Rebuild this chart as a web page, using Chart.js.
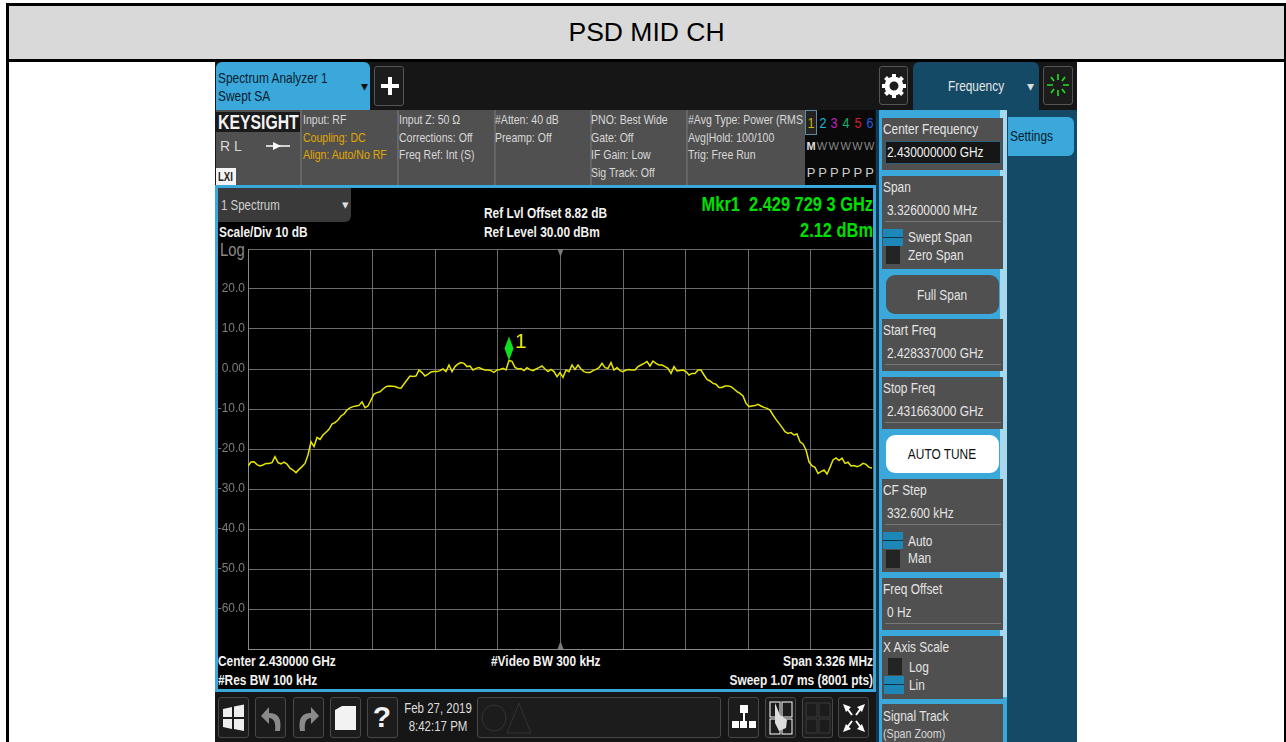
<!DOCTYPE html>
<html>
<head>
<meta charset="utf-8">
<title>PSD MID CH</title>
<script src="https://cdn.jsdelivr.net/npm/chart.js"></script>
<style>
  html, body { margin: 0; padding: 0; background: #fff; overflow: hidden; width: 1286px; height: 742px; }
  body { font-family: 'Liberation Sans', Arial, sans-serif; position: relative; }
  .b { position: absolute; box-sizing: border-box; }
  .t { position: absolute; white-space: pre; line-height: 1; }
  canvas#spectrum { position: absolute; left: 218px; top: 240px; }
  svg { position: absolute; }
</style>
</head>
<body>
<div id="ui"></div>
<canvas id="spectrum" width="657" height="415"></canvas>
<script>
// trace, one value every ~16 kHz (dBm)
const traceLevels = [
  -24.25,-23.25,-23.2,-23.9,-24.25,-24.0,-23.6,-23.6,-23.4,-21.9,-23.4,-23.7,-23.3,-23.75,-24.8,-25.25,-25.9,-25.1,-24.4,-23.6,
  -21.5,-18.2,-19.4,-17.1,-17.6,-16.5,-15.8,-15.1,-13.75,-13.4,-12.75,-11.75,-11.25,-10.25,-9.7,-9.4,-9.25,-9.1,-8.2,-9.7,
  -9.25,-7.75,-6.25,-5.9,-5.7,-5.0,-4.4,-4.25,-4.3,-4.4,-4.7,-4.8,-3.75,-2.75,-1.75,-1.9,-1.75,-0.25,-0.9,-1.75,
  -1.3,-0.75,-0.65,-0.65,-0.4,0.0,-0.65,1.0,-0.65,0.6,1.25,1.6,1.4,0.6,0.75,-0.25,0.15,0.35,0.0,-0.25,
  -0.25,-0.4,-0.85,-0.25,-0.1,0.15,-0.25,2.12,1.9,0.4,0.0,0.1,-0.4,0.35,-0.15,-0.4,0.0,0.35,0.75,0.0,
  -0.65,-0.1,-0.65,-1.9,-0.9,
  -2.1,-0.25,-0.65,1.0,-0.1,1.0,0.0,-0.65,-0.9,-0.85,-0.4,-0.1,0.35,1.4,0.35,0.15,1.6,-0.25,0.35,-0.4,
  -0.65,-0.25,-0.1,-0.25,-0.25,0.6,1.0,1.4,1.85,0.75,2.0,1.4,1.0,1.0,0.6,0.15,-1.1,0.6,-0.5,-0.4,
  -0.25,-0.65,-1.5,-1.1,-1.1,-0.25,-0.25,-1.5,-2.6,-3.0,-3.6,-3.8,-4.65,-4.6,-4.25,-4.25,-4.4,-5.0,-5.65,-6.1,
  -6.75,-8.6,-9.4,-9.25,-9.15,-8.85,-9.25,-9.6,-9.85,-10.25,-11.5,-12.6,-13.6,-14.6,-15.65,-16.1,-15.9,-16.5,-16.25,-18.2,
  -18.75,-20.25,-23.2,-24.2,-24.6,-26.1,-25.65,-25.25,-26.25,-24.6,-22.75,-22.25,-22.9,-22.3,-23.6,-23.3,-24.25,-24.15,-24.4,-24.15,
  -23.6,-23.85,-24.6,-24.75
];
const sweepStartMHz = 2428.337;
const sweepStepMHz = 0.015965;
const sweepFreqs = traceLevels.map((_, i) => sweepStartMHz + i * sweepStepMHz);

const xGridFreqs = [2428.337, 2428.6696, 2429.0022, 2429.3348, 2429.6674, 2430.0, 2430.3326, 2430.6652, 2430.9978, 2431.3304, 2431.663];
const yTickValues = [20, 10, 0, -10, -20, -30, -40, -50, -60];
const yTickLabels = ['20.0', '10.0', '0.00', '-10.0', '-20.0', '-30.0', '-40.0', '-50.0', '-60.0'];
const markerFreq = sweepFreqs[87];
const markerLevel = 2.12;

const BLUE = '#3aa8db', PANEL = '#505050', NAVY = '#144a66';
const ui = document.getElementById('ui');

function box(x, y, w, h, bg, extra) {
  const d = document.createElement('div');
  d.className = 'b';
  d.style.cssText = `left:${x}px;top:${y}px;width:${w}px;height:${h}px;background:${bg};${extra || ''}`;
  ui.appendChild(d);
  return d;
}
// x is the left edge (or the right edge with align 'r', centre with 'c'), cy the text's middle
function txt(str, x, cy, size, color, o) {
  o = o || {};
  const sx = o.sx || (o.bold ? 0.85 : 0.82);
  const d = document.createElement('div');
  d.className = 't';
  d.textContent = str;
  let origin = 'left', tx = '0';
  if (o.align === 'r') { origin = 'right'; tx = '-100%'; }
  if (o.align === 'c') { origin = 'center'; tx = '-50%'; }
  d.style.cssText = `left:${x}px;top:${cy}px;font-size:${size}px;color:${color};` +
    `font-weight:${o.bold ? 'bold' : 'normal'};transform-origin:${origin} center;` +
    `transform:translate(${tx},-50%) scaleX(${sx});`;
  ui.appendChild(d);
}
function icon(x, y, w, h, inner) {
  const s = document.createElementNS('http://www.w3.org/2000/svg', 'svg');
  s.setAttribute('width', w); s.setAttribute('height', h);
  s.setAttribute('viewBox', `0 0 ${w} ${h}`);
  s.style.left = x + 'px'; s.style.top = y + 'px';
  s.innerHTML = inner;
  ui.appendChild(s);
}

// document frame and title
box(6, 3, 1280, 739, '#fff', 'border-left:3px solid #000;border-right:2px solid #000;border-top:3px solid #000;');
box(9, 6, 1275, 53, '#d9d9d9');
box(9, 59, 1275, 3, '#000');
txt('PSD MID CH', 646.5, 32, 26.5, '#000', { align: 'c', sx: 1 });

// instrument screen
box(215, 62, 862, 680, '#161616');
box(216, 62, 154, 48, BLUE, 'border-radius:6px 6px 0 0;');
txt('Spectrum Analyzer 1', 218, 78, 14.5, '#08202e');
txt('Swept SA', 218, 96, 14.5, '#08202e');
txt('\u25BE', 361, 86, 14, '#111', { sx: 1 });
box(374, 66, 30, 40, '#1c1c1c', 'border:1px solid #555;border-radius:3px;');
icon(380, 75, 20, 22, '<path d="M8 2h4v7h7v4h-7v7H8v-7H1V9h7z" fill="#fff"/>');

box(879, 66, 29, 39, '#1c1c1c', 'border:1px solid #555;border-radius:3px;');
icon(881, 73, 26, 26, '<circle cx="13" cy="13" r="7" fill="none" stroke="#fff" stroke-width="5"/><g stroke="#fff" stroke-width="4"><path d="M13 1v5M13 20v5M1 13h5M20 13h5M4.5 4.5l3.5 3.5M18 18l3.5 3.5M21.5 4.5L18 8M8 18l-3.500 3.500"/></g>');
box(913, 62, 126, 48, NAVY, 'border-radius:6px 6px 0 0;');
txt('Frequency', 976, 86, 14.5, '#e6e6e6', { align: 'c' });
txt('\u25BE', 1027, 86, 14, '#ddd', { sx: 1 });
box(1043, 66, 30, 39, '#1c1c1c', 'border:1px solid #555;border-radius:3px;');
icon(1046, 72, 24, 26, '<g stroke="#22e022" stroke-width="1.6"><path d="M12 2v6M12 18v6M1 13h6M17 13h6M5 5l3 4M19 5l-3 4M5 21l3-4M19 21l-3-4"/></g>');

// status row
box(216, 110, 659, 75, PANEL);
box(216, 112, 84, 20, '#1a1a1a');
txt('KEYSIGHT', 218, 122, 20, '#f2f2f2', { bold: true, sx: 0.79 });
txt('R L', 220, 146, 14, '#d8d8d8', { sx: 1 });
icon(265, 140, 26, 12, '<path d="M1 6h24" stroke="#fff" stroke-width="1.500"/><path d="M8 2l8 4-8 4z" fill="#fff"/>');
box(216, 168, 20, 17, '#f4f4f4');
txt('LXI', 218, 177, 12, '#222', { bold: true, sx: 0.8 });
[300, 397, 494, 590, 686].forEach(x => box(x, 110, 2, 75, '#666'));
const status = [
  ['Input: RF', 303, 120, '#d8d8d8'], ['Coupling: DC', 303, 138, '#e0a800'], ['Align: Auto/No RF', 303, 155, '#e0a800'],
  ['Input Z: 50 \u03A9', 399, 120, '#d8d8d8'], ['Corrections: Off', 399, 138, '#d8d8d8'], ['Freq Ref: Int (S)', 399, 155, '#d8d8d8'],
  ['#Atten: 40 dB', 495, 120, '#d8d8d8'], ['Preamp: Off', 495, 138, '#d8d8d8'],
  ['PNO: Best Wide', 591, 120, '#d8d8d8'], ['Gate: Off', 591, 138, '#d8d8d8'], ['IF Gain: Low', 591, 155, '#d8d8d8'], ['Sig Track: Off', 591, 173, '#d8d8d8'],
  ['#Avg Type: Power (RMS', 688, 120, '#d8d8d8'], ['Avg|Hold: 100/100', 688, 138, '#d8d8d8'], ['Trig: Free Run', 688, 155, '#d8d8d8']
];
status.forEach(s => txt(s[0], s[1], s[2], 13.5, s[3], { sx: 0.78 }));
box(805, 110, 70, 75, '#0a0a0a');
box(805, 110, 12, 25, '#222', 'border:1px solid #5b8ca5;');
const traceNums = [['1', '#c9b400'], ['2', '#14b8d8'], ['3', '#c020c0'], ['4', '#10b070'], ['5', '#d02030'], ['6', '#2060e0']];
traceNums.forEach((n, i) => txt(n[0], 811 + i * 11.7, 123, 14, n[1], { align: 'c', sx: 0.9 }));
txt('M', 811, 146, 11, '#ddd', { align: 'c', bold: true, sx: 1 });
['W', 'W', 'W', 'W', 'W'].forEach((w, i) => txt(w, 822 + i * 11.8, 146, 11, '#888', { align: 'c', sx: 1 }));
['P', 'P', 'P', 'P', 'P', 'P'].forEach((p, i) => txt(p, 811 + i * 11.7, 172, 13, '#ccc', { align: 'c', sx: 1 }));

// graph pane
box(215, 185, 661, 507, '#000', `border:3px solid ${BLUE};`);
box(218, 188, 133, 34, '#3a3a3a', 'border-radius:0 0 6px 0;');
txt('1 Spectrum', 221, 205, 14, '#cfcfcf');
txt('\u25BE', 342, 204, 13, '#ddd', { sx: 1 });
txt('Scale/Div 10 dB', 219, 232, 14, '#f2f2f2', { bold: true });
txt('Ref Lvl Offset 8.82 dB', 484, 213, 14, '#f2f2f2', { bold: true });
txt('Ref Level 30.00 dBm', 484, 232, 14, '#f2f2f2', { bold: true });
txt('Mkr1  2.429 729 3 GHz', 873, 204, 20, '#00e000', { align: 'r', bold: true, sx: 0.82 });
txt('2.12 dBm', 873, 230, 20, '#00e000', { align: 'r', bold: true, sx: 0.82 });
txt('Log', 220, 250, 18, '#8a8a8a');
txt('Center 2.430000 GHz', 218, 661, 14, '#f2f2f2', { bold: true });
txt('#Res BW 100 kHz', 218, 680, 14, '#f2f2f2', { bold: true });
txt('#Video BW 300 kHz', 491, 661, 14, '#f2f2f2', { bold: true });
txt('Span 3.326 MHz', 873, 661, 14, '#f2f2f2', { align: 'r', bold: true });
txt('Sweep 1.07 ms (8001 pts)', 873, 680, 14, '#f2f2f2', { align: 'r', bold: true });

// bottom toolbar
[218, 255, 293, 330, 367, 728, 765, 802, 838].forEach(x => box(x, 697, 31, 41, '#1c1c1c', 'border:1px solid #484848;border-radius:3px;'));
box(477, 697, 244, 41, '#1c1c1c', 'border:1px solid #484848;border-radius:3px;');
icon(222, 703, 23, 29, '<path d="M1 6l9-2v10H1zM12 3.500l10-2V14H12zM1 16h9v10l-9-2zM12 16h10v12l-10-2z" fill="#eee"/>');
icon(259, 703, 24, 28, '<path d="M2 13l8-9v6c9 0 13 5 11 18h-5c1-8-1-13-6-13v6z" fill="#8a8a8a"/>');
icon(297, 703, 24, 28, '<path d="M22 13l-8-9v6C5 10 1 15 3 28h5c-1-8 1-13 6-13v6z" fill="#8a8a8a"/>');
icon(333, 704, 25, 27, '<path d="M2 6l7-4h14v24H2z" fill="#f2f2f2"/>');
txt('?', 382, 717, 30, '#f2f2f2', { align: 'c', bold: true, sx: 1 });
txt('Feb 27, 2019', 438, 708, 14, '#ddd', { align: 'c' });
txt('8:42:17 PM', 438, 726, 14, '#ddd', { align: 'c' });
icon(480, 700, 60, 36, '<ellipse cx="14" cy="18" rx="12" ry="13" fill="none" stroke="#333"/><path d="M39 3l-12 30h24z" fill="none" stroke="#333"/>');
icon(731, 703, 26, 28, '<g fill="#fff"><rect x="9" y="2" width="8" height="8"/><rect x="1" y="18" width="7" height="7"/><rect x="9" y="18" width="7" height="7"/><rect x="18" y="18" width="7" height="7"/></g><path d="M13 8v12" stroke="#fff" stroke-width="2"/>');
icon(768, 700, 26, 36, '<rect x="2" y="2" width="10" height="15" fill="none" stroke="#fff"/><rect x="14" y="2" width="10" height="15" fill="none" stroke="#fff"/><rect x="2" y="19" width="10" height="15" fill="none" stroke="#fff"/><rect x="14" y="19" width="10" height="15" fill="none" stroke="#fff"/><path d="M7 3l5 12 7 5-1 8-7 3-4-8z" fill="#ddd"/>');
icon(805, 701, 26, 34, '<g fill="none" stroke="#3a3a3a"><rect x="1" y="2" width="11" height="14"/><rect x="14" y="2" width="11" height="14"/><rect x="1" y="18" width="11" height="14"/><rect x="14" y="18" width="11" height="14"/></g>');
icon(841, 702, 26, 32, '<g fill="#fff"><path d="M2 2l8 3-5 5zM24 2l-8 3 5 5zM2 30l8-3-5-5zM24 30l-8-3 5-5z"/></g><g stroke="#fff" stroke-width="2"><path d="M5 5l6 8M21 5l-6 8M5 27l6-8M21 27l-6-8"/></g>');

// softkey panel
box(876, 110, 3, 632, '#0d3a55');
box(879, 110, 128, 632, BLUE);
box(1007, 110, 70, 632, NAVY);
box(1000, 110, 7, 587, '#a8d8ee');
box(1008, 117, 66, 39, BLUE, 'border-radius:0 6px 6px 0;');
txt('Settings', 1010, 136, 14.5, '#08202e');
function keyBox(y, h) { box(882, y, 121, h, PANEL); }
function valueRow(label, value, yBox, h) {
  keyBox(yBox, h);
  txt(label, 883, yBox + 11, 14.5, '#e4e4e4');
  txt(value, 887, yBox + 34, 14.5, '#e4e4e4');
  box(885, yBox + 45, 116, 1, '#777');
}
function toggle(x, y, on) {
  if (on) {
    box(883, y, 20, 17, '#1d87b8');
    box(883, y + 8, 20, 1, '#0b3448');
  } else {
    box(886, y, 14, 18, '#242424');
  }
}
keyBox(118, 52);
txt('Center Frequency', 883, 129, 14.5, '#e4e4e4');
box(885, 141, 116, 23, '#161616', 'border:1px solid #2e5f7a;');
txt('2.430000000 GHz', 887, 152, 14.5, '#f0f0f0');
valueRow('Span', '3.32600000 MHz', 176, 93);
toggle(0, 229, true); toggle(0, 246, false);
txt('Swept Span', 908, 237, 14.5, '#e4e4e4');
txt('Zero Span', 908, 255, 14.5, '#e4e4e4');
box(886, 275, 113, 39, PANEL, 'border-radius:9px;');
txt('Full Span', 942, 295, 14.5, '#e4e4e4', { align: 'c' });
valueRow('Start Freq', '2.428337000 GHz', 319, 52);
valueRow('Stop Freq', '2.431663000 GHz', 377, 52);
box(886, 435, 113, 38, '#fff', 'border-radius:9px;');
txt('AUTO TUNE', 942, 454, 14.5, '#111', { align: 'c' });
valueRow('CF Step', '332.600 kHz', 479, 93);
toggle(0, 532, true); toggle(0, 550, false);
txt('Auto', 908, 541, 14.5, '#e4e4e4');
txt('Man', 908, 558, 14.5, '#e4e4e4');
valueRow('Freq Offset', '0 Hz', 578, 52);
keyBox(636, 63);
txt('X Axis Scale', 883, 647, 14.5, '#e4e4e4');
box(888, 658, 14, 17, '#242424');
box(884, 676, 20, 18, '#1d87b8');
box(884, 684, 20, 1, '#0b3448');
txt('Log', 909, 667, 14.5, '#e4e4e4');
txt('Lin', 909, 685, 14.5, '#e4e4e4');
keyBox(704, 38);
txt('Signal Track', 883, 716, 14.5, '#e4e4e4');
txt('(Span Zoom)', 883, 733, 13, '#d8d8d8');

// marker diamond and centre ticks, placed through the chart's scales
const markerPlugin = {
  id: 'markerPlugin',
  afterDatasetsDraw(chart) {
    const { ctx, scales, chartArea } = chart;
    const mx = scales.x.getPixelForValue(markerFreq);
    const my = scales.y.getPixelForValue(markerLevel);
    ctx.save();
    ctx.fillStyle = '#10e020';
    ctx.beginPath();
    ctx.moveTo(mx, my - 24);
    ctx.lineTo(mx + 4.5, my - 12);
    ctx.lineTo(mx, my);
    ctx.lineTo(mx - 4.5, my - 12);
    ctx.closePath();
    ctx.fill();
    ctx.fillStyle = '#e8e800';
    ctx.font = '21px "Liberation Sans"';
    ctx.fillText('1', mx + 6, my - 12.5);
    const cx = scales.x.getPixelForValue(2430);
    ctx.fillStyle = '#7a7a7a';
    ctx.beginPath();
    ctx.moveTo(cx - 3, chartArea.top);
    ctx.lineTo(cx + 3, chartArea.top);
    ctx.lineTo(cx, chartArea.top + 8);
    ctx.closePath();
    ctx.moveTo(cx - 3, chartArea.bottom);
    ctx.lineTo(cx + 3, chartArea.bottom);
    ctx.lineTo(cx, chartArea.bottom - 8);
    ctx.closePath();
    ctx.fill();
    ctx.restore();
  }
};

new Chart(document.getElementById('spectrum').getContext('2d'), {
  type: 'line',
  data: {
    datasets: [{
      data: sweepFreqs.map((f, i) => ({ x: f, y: traceLevels[i] })),
      borderColor: '#e6e600',
      borderWidth: 1.5,
      pointRadius: 0,
      tension: 0
    }]
  },
  options: {
    responsive: false,
    animation: false,
    layout: { padding: { top: 9, right: 2, bottom: 6, left: 0 } },
    plugins: { legend: { display: false }, tooltip: { enabled: false }, title: { display: false } },
    scales: {
      x: {
        type: 'linear',
        min: 2428.337,
        max: 2431.663,
        afterBuildTicks: axis => { axis.ticks = xGridFreqs.map(v => ({ value: v })); },
        afterFit: axis => { axis.height = 0; },
        ticks: { display: false },
        grid: { color: '#6c6c6c', lineWidth: 1, drawTicks: false },
        border: { color: '#8a8a8a' }
      },
      y: {
        min: -70,
        max: 30,
        afterFit: axis => {
          axis.width = 30;
          axis.paddingTop = 0;
          axis.paddingBottom = 0;
        },
        ticks: {
          stepSize: 10,
          color: '#7c7c7c',
          font: { family: 'Liberation Sans', size: 12 },
          padding: 3,
          callback: v => {
            const i = yTickValues.indexOf(v);
            return i < 0 ? '' : yTickLabels[i];
          }
        },
        grid: { color: '#6c6c6c', lineWidth: 1, drawTicks: false },
        border: { color: '#8a8a8a' }
      }
    }
  },
  plugins: [markerPlugin]
});
</script>
</body>
</html>
